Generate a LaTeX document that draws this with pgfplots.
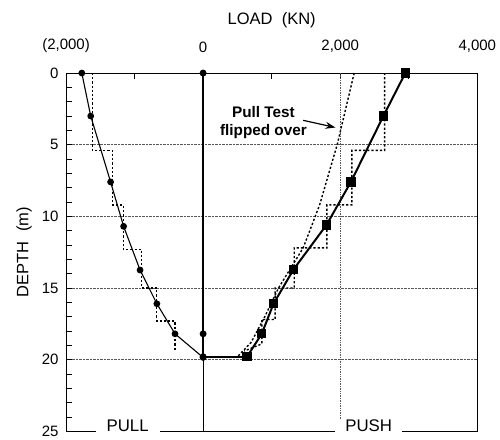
\documentclass[border=0pt]{standalone}
\usepackage{pgfplots}
\pgfplotsset{compat=1.18}
\usetikzlibrary{arrows.meta}
\usepackage{fontspec}
\setmainfont{Liberation Sans}

\begin{document}
\begin{tikzpicture}
\begin{axis}[
    scale only axis,
    width=411pt, height=358pt,
    xmin=-2000, xmax=4000,
    ymin=0, ymax=25,
    y dir=reverse,
    clip=false,
    axis line style={line width=0.9pt},
    xtick={-2000,-1000,...,4000},
    xticklabels={{(2,000)},{},{0},{},{2,000},{},{4,000}},
    xtick pos=right, xticklabel pos=right,
    ytick={0,5,...,25},
    yticklabels={0,5,10,15,20,25},
    ytick pos=left,
    minor y tick num=4,
    tick align=inside,
    major tick length=6pt, minor tick length=6pt,
    tick style={line width=0.8pt, black},
    tick label style={font=\fontsize{15}{17}\selectfont},
    xticklabel style={yshift=17pt},
    yticklabel style={xshift=-4pt},
    label style={font=\fontsize{16.5}{19}\selectfont},
    xlabel={LOAD\ \ (KN)},
    ylabel={DEPTH\ \ (m)},
    xlabel style={at={(axis description cs:0.5,1)}, anchor=center, yshift=53pt},
    ylabel style={at={(axis description cs:0,0.5)}, anchor=center, yshift=42pt},
    ymajorgrids,
    grid style={densely dotted, line width=0.7pt, black!65},
]
% grid line at 2,000
\draw[densely dotted, line width=0.7pt, black!65] (axis cs:2000,0) -- (axis cs:2000,25);

% step profiles (dashed)
\addplot[black, line width=1.4pt, dash pattern=on 2.2pt off 2pt] coordinates {
    (-1616,0) (-1616,5.4) (-1324,5.4) (-1324,9.2) (-1163,9.2) (-1163,12.3)
    (-895,12.3) (-895,15) (-676,15) (-676,17.3) (-409,17.3) (-409,19.4)};
\addplot[black, line width=1.4pt, dash pattern=on 2.2pt off 2pt] coordinates {
    (2647,0) (2647,5.4) (2171,5.4) (2171,9.2) (1806,9.2) (1806,12.2)
    (1330,12.2) (1330,15) (1051,15) (1051,17.2) (857,17.2) (857,18.9) (600,19.4)};
% pull test flipped over
\addplot[black, line width=1.4pt, dash pattern=on 2.2pt off 2pt] coordinates {
    (2204,0) (1956,5) (1700,9.2) (1460,12.2) (1100,15) (900,17) (700,18.8) (500,19.8)};

% zero line
\addplot[black, line width=0.8pt] coordinates {(0,19.8) (0,25)};
\addplot[black, line width=2pt, mark=*, mark size=2.4pt] coordinates {
    (0,0) (0,18.2) (0,19.8)};

% pull
\addplot[black, line width=1.1pt, mark=*, mark size=2.8pt] coordinates {
    (-1770,0) (-1640,3.0) (-1350,7.6) (-1160,10.7) (-920,13.75)
    (-675,16.1) (-410,18.2) (0,19.85)};
% push
\addplot[black, line width=2pt, mark=square*, mark size=3.6pt] coordinates {
    (2950,0) (2630,3.0) (2156,7.6) (1800,10.6) (1320,13.7)
    (1027,16.1) (855,18.2) (640,19.8)};
\addplot[black, line width=2.4pt] coordinates {(640,19.8) (0,19.8)};

% annotation
\node[font=\bfseries\fontsize{15.3}{18}\selectfont, align=center]
    at (axis cs:880,3.45) {Pull Test\\flipped over};
\draw[-{Stealth[length=10pt,width=7pt]}, line width=1.2pt]
    (axis cs:1460,3.3) -- (axis cs:1930,3.8);

\coordinate (pull) at (axis cs:-1102,25);
\coordinate (push) at (axis cs:2416,25);
\end{axis}
\node[fill=white, anchor=base, inner xsep=11pt, inner ysep=1.5pt,
      font=\fontsize{16.8}{19}\selectfont] at ([yshift=-0.6pt]pull) {PULL};
\node[fill=white, anchor=base, inner xsep=10pt, inner ysep=1.5pt,
      font=\fontsize{16.8}{19}\selectfont] at ([yshift=-0.6pt]push) {PUSH};
\path (current axis.south west) ++(-66pt,-1pt) coordinate (bl);
\path (current axis.north east) ++(22.7pt,73pt) coordinate (tr);
\path (bl) rectangle (tr);
\end{tikzpicture}
\end{document}
